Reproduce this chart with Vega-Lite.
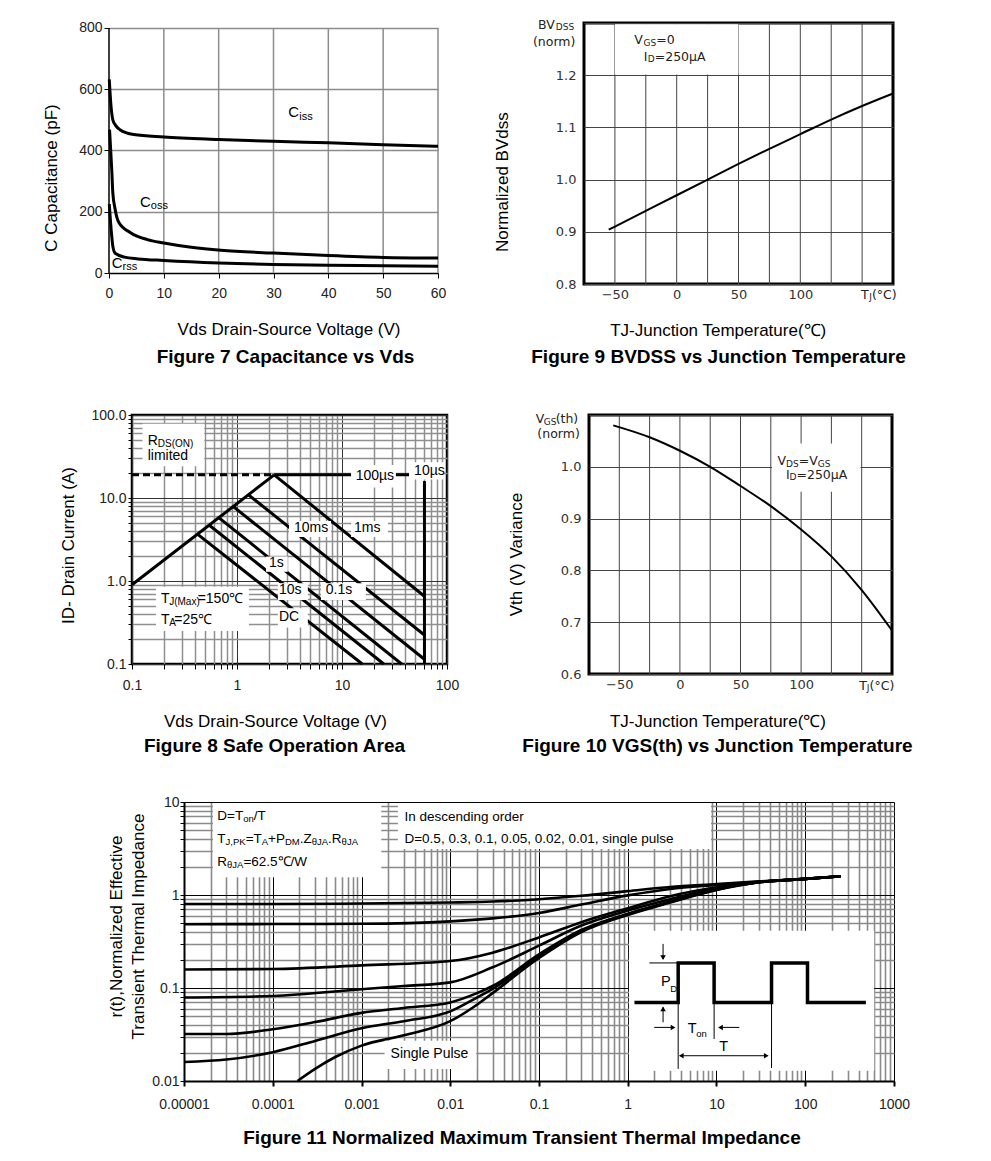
{
"$schema": "https://vega.github.io/schema/vega-lite/v6.json",
"background": "white",
"padding": {"left": 42, "top": 15, "right": 5, "bottom": 5},
"spacing": 37,
"config": {
  "view": {"stroke": null},
  "font": "Liberation Sans",
  "axis": {"labelFont": "Liberation Sans", "titleFont": "Liberation Sans", "labelFontSize": 14, "labelColor": "#222", "titleColor": "#000", "titleFontSize": 17, "titleFontWeight": "normal", "domainColor": "#000", "tickColor": "#000"},
  "title": {"font": "Liberation Sans", "fontSize": 19, "fontWeight": "bold", "color": "#000"},
  "text": {"font": "Liberation Sans", "color": "#000"}
},
"vconcat": [
{
  "bounds": "flush",
  "spacing": 146,
  "hconcat": [
  {
    "width": 329, "height": 250,
    "title": {"text": "Figure 7 Capacitance vs Vds", "orient": "bottom", "offset": 11, "dx": 12},
    "layer": [
      {
        "data": {"values": [{"x":10},{"x":20},{"x":30},{"x":40},{"x":50},{"x":60}]},
        "mark": {"type": "rule", "color": "#8c8c8c", "strokeWidth": 1.5},
        "encoding": {
          "x": {"field": "x", "type": "quantitative", "scale": {"domain": [0, 60], "nice": false, "zero": false},
            "axis": {"values": [0,10,20,30,40,50,60], "grid": false, "domainWidth": 1.5, "tickSize": 5, "labelPadding": 8, "labelFlush": false, "title": "Vds Drain-Source Voltage (V)", "titleX": 179.5, "titleY": 56, "titleBaseline": "middle"}},
          "y": {"datum": 0, "type": "quantitative"},
          "y2": {"datum": 800}
        }
      },
      {
        "data": {"values": [{"x": 0}]},
        "mark": {"type": "rule", "color": "#000", "strokeWidth": 1.5},
        "encoding": {"x": {"field": "x", "type": "quantitative"}, "y": {"datum": 0, "type": "quantitative"}, "y2": {"datum": 800}}
      },
      {
        "data": {"values": [
          {"s":"Ciss","x":0.05,"y":632},{"s":"Ciss","x":0.3,"y":560},{"s":"Ciss","x":0.7,"y":500},{"s":"Ciss","x":1.2,"y":482},{"s":"Ciss","x":2,"y":468},{"s":"Ciss","x":4.5,"y":452},{"s":"Ciss","x":10,"y":444},{"s":"Ciss","x":20,"y":436},{"s":"Ciss","x":30,"y":430},{"s":"Ciss","x":40,"y":425},{"s":"Ciss","x":50,"y":419},{"s":"Ciss","x":60,"y":414},
          {"s":"Coss","x":0.1,"y":468},{"s":"Coss","x":0.5,"y":338},{"s":"Coss","x":0.7,"y":261},{"s":"Coss","x":1.1,"y":210},{"s":"Coss","x":1.8,"y":165},{"s":"Coss","x":4,"y":131},{"s":"Coss","x":7,"y":109},{"s":"Coss","x":10,"y":98},{"s":"Coss","x":15,"y":84},{"s":"Coss","x":20.4,"y":74},{"s":"Coss","x":30,"y":65},{"s":"Coss","x":40,"y":57},{"s":"Coss","x":50,"y":51},{"s":"Coss","x":60,"y":49},
          {"s":"Crss","x":0.05,"y":225},{"s":"Crss","x":0.5,"y":120},{"s":"Crss","x":0.7,"y":87},{"s":"Crss","x":1.1,"y":65},{"s":"Crss","x":2.8,"y":52},{"s":"Crss","x":5.3,"y":46},{"s":"Crss","x":10,"y":41},{"s":"Crss","x":20,"y":33},{"s":"Crss","x":30,"y":28},{"s":"Crss","x":40,"y":25},{"s":"Crss","x":50,"y":24},{"s":"Crss","x":60,"y":22}
        ]},
        "mark": {"type": "line", "color": "#000", "strokeWidth": 3, "interpolate": "monotone"},
        "encoding": {
          "x": {"field": "x", "type": "quantitative"},
          "y": {"field": "y", "type": "quantitative", "scale": {"domain": [0, 816.3], "nice": false},
            "axis": {"values": [0,200,400,600,800], "grid": true, "gridColor": "#8c8c8c", "gridWidth": 1.5, "gridOpacity": {"condition": {"test": "datum.value == 0", "value": 0}, "value": 1}, "domain": false, "tickSize": 5, "labelPadding": 2, "title": "C Capacitance (pF)", "titleX": -57.5, "titleY": 154.5, "titleBaseline": "middle"}},
          "detail": {"field": "s"}
        }
      },
      {
        "data": {"values": [{"x":32.7,"y":526,"t":"C"},{"x":5.66,"y":232,"t":"C"},{"x":0.49,"y":33,"t":"C"}]},
        "mark": {"type": "text", "fontSize": 15, "align": "left", "baseline": "middle"},
        "encoding": {"x": {"field": "x", "type": "quantitative"}, "y": {"field": "y", "type": "quantitative"}, "text": {"field": "t"}}
      },
      {
        "data": {"values": [{"x":34.7,"y":510,"t":"iss"},{"x":7.63,"y":218,"t":"oss"},{"x":2.46,"y":20,"t":"rss"}]},
        "mark": {"type": "text", "fontSize": 11, "align": "left", "baseline": "middle"},
        "encoding": {"x": {"field": "x", "type": "quantitative"}, "y": {"field": "y", "type": "quantitative"}, "text": {"field": "t"}}
      }
    ]
  },
  {
    "width": 309, "height": 261,
    "view": {"stroke": "#000", "strokeWidth": 3},
    "title": {"text": "Figure 9 BVDSS vs Junction Temperature", "orient": "bottom", "offset": 10, "dx": -20},
    "layer": [
      {
        "data": {"values": [{"x":-50},{"x":-25},{"x":0},{"x":25},{"x":50},{"x":75},{"x":100},{"x":125},{"x":150}]},
        "mark": {"type": "rule", "color": "#444", "strokeWidth": 1},
        "encoding": {
          "x": {"field": "x", "type": "quantitative", "scale": {"domain": [-75, 175], "nice": false, "zero": false},
            "axis": {"values": [-50,0,50,100], "grid": false, "domain": false, "ticks": false, "tickSize": 0, "labelPadding": 4, "labelFlush": false, "labelFont": "DejaVu Sans", "labelFontSize": 13, "labelColor": "#333", "title": "TJ-Junction Temperature(℃)", "titleX": 133.7, "titleY": 46, "titleBaseline": "middle"}}
        }
      },
      {
        "data": {"values": [{"x": -50, "x2": 50, "y": 1.2015, "y2": 1.2975}]},
        "mark": {"type": "rect", "color": "#fff"},
        "encoding": {"x": {"field": "x", "type": "quantitative"}, "x2": {"field": "x2"}, "y": {"field": "y", "type": "quantitative"}, "y2": {"field": "y2"}}
      },
      {
        "data": {"values": [{"x":-55,"y":0.904},{"x":-50,"y":0.91},{"x":-25,"y":0.94},{"x":0,"y":0.97},{"x":25,"y":1.0},{"x":50,"y":1.03},{"x":75,"y":1.059},{"x":100,"y":1.087},{"x":125,"y":1.115},{"x":150,"y":1.141},{"x":175,"y":1.165}]},
        "mark": {"type": "line", "color": "#000", "strokeWidth": 2, "interpolate": "monotone"},
        "encoding": {
          "x": {"field": "x", "type": "quantitative"},
          "y": {"field": "y", "type": "quantitative", "scale": {"domain": [0.8, 1.3], "nice": false, "zero": false},
            "axis": {"values": [0.8,0.85,0.9,0.95,1,1.05,1.1,1.15,1.2,1.25,1.3], "format": ".1f", "labelExpr": "datum.value < 1.21 && abs(datum.value*10 - round(datum.value*10)) < 0.001 ? datum.label : ''", "grid": true, "gridColor": "#444", "gridWidth": 1, "domain": false, "ticks": false, "tickSize": 0, "labelPadding": 8, "labelOverlap": false, "labelFont": "DejaVu Sans", "labelFontSize": 13, "labelColor": "#333", "title": "Normalized BVdss", "titleX": -81.5, "titleY": 158.7, "titleBaseline": "middle"}}
        }
      },
      {
        "data": {"values": [{"x":-112.2,"y":1.296,"t":"BV"},{"x":-116.3,"y":1.2642,"t":"(norm)"},{"x":-34.3,"y":1.2674,"t":"V"},{"x":-16.6,"y":1.2674,"t":"=0"},{"x":-26.7,"y":1.2354,"t":"I"},{"x":-17.8,"y":1.2354,"t":"=250μA"},{"x":149.1,"y":0.779,"t":"T"},{"x":158,"y":0.779,"t":"(°C)"}]},
        "mark": {"type": "text", "font": "DejaVu Sans", "fontSize": 12.5, "align": "left", "baseline": "middle", "color": "#222"},
        "encoding": {"x": {"field": "x", "type": "quantitative"}, "y": {"field": "y", "type": "quantitative"}, "text": {"field": "t"}}
      },
      {
        "data": {"values": [{"x":-97.8,"y":1.2918,"t":"DSS"},{"x":-26.9,"y":1.2623,"t":"GS"},{"x":-23.4,"y":1.231,"t":"D"},{"x":155.7,"y":0.775,"t":"J"}]},
        "mark": {"type": "text", "font": "DejaVu Sans", "fontSize": 9, "align": "left", "baseline": "middle", "color": "#222"},
        "encoding": {"x": {"field": "x", "type": "quantitative"}, "y": {"field": "y", "type": "quantitative"}, "text": {"field": "t"}}
      }
    ]
  }
  ]
},
{
  "bounds": "flush",
  "spacing": 20,
  "hconcat": [
  {"width": 3, "height": 1, "data": {"values": [{"a": 1}]}, "mark": {"type": "point", "opacity": 0}},
  {
    "bounds": "flush",
    "spacing": 142,
    "hconcat": [
    {
      "width": 315, "height": 249,
      "view": {"stroke": "#000", "strokeWidth": 2.5},
      "title": {"text": "Figure 8 Safe Operation Area", "orient": "bottom", "offset": 8, "dx": -15},
      "layer": [
        {
          "data": {"values": [
            {"s":"rise","x":0.1,"y":0.9},{"s":"rise","x":2.26,"y":19},
            {"s":"top","x":2.26,"y":19},{"s":"top","x":61,"y":19},
            {"s":"v10us","x":61,"y":16},{"s":"v10us","x":61,"y":0.1},
            {"s":"1ms","x":2.26,"y":19},{"s":"1ms","x":60.5,"y":0.66},
            {"s":"10ms","x":1.3,"y":10.8},{"s":"10ms","x":60.5,"y":0.225},
            {"s":"0.1s","x":0.92,"y":7.9},{"s":"0.1s","x":60.5,"y":0.115},
            {"s":"1s","x":0.67,"y":5.8},{"s":"1s","x":37,"y":0.1},
            {"s":"10s","x":0.545,"y":4.7},{"s":"10s","x":25,"y":0.1},
            {"s":"DC","x":0.42,"y":3.67},{"s":"DC","x":15.6,"y":0.1}
          ]},
          "mark": {"type": "line", "color": "#000", "strokeWidth": 3},
          "encoding": {
            "x": {"field": "x", "type": "quantitative", "scale": {"type": "log", "domain": [0.1, 100], "nice": false},
              "axis": {"values": [0.1,0.2,0.3,0.4,0.5,0.6,0.7,0.8,0.9,1,2,3,4,5,6,7,8,9,10,20,30,40,50,60,70,80,90,100], "format": "~g", "labelExpr": "indexof([0.1,1,10,100], datum.value) >= 0 ? datum.label : ''", "grid": true, "gridColor": {"condition": {"test": "indexof([0.1,1,10,100], datum.value) >= 0", "value": "#333"}, "value": "#8f8f8f"}, "gridWidth": {"condition": {"test": "indexof([0.1,1,10,100], datum.value) >= 0", "value": 1}, "value": 1.5}, "domain": false, "tickSize": 5, "labelPadding": 9, "labelFlush": false, "labelOverlap": false, "title": "Vds Drain-Source Voltage (V)", "titleX": 143, "titleY": 57, "titleBaseline": "middle"}},
            "y": {"field": "y", "type": "quantitative", "scale": {"type": "log", "domain": [0.1, 100], "nice": false},
              "axis": {"values": [0.1,0.2,0.3,0.4,0.5,0.6,0.7,0.8,0.9,1,2,3,4,5,6,7,8,9,10,20,30,40,50,60,70,80,90,100], "format": ".1f", "labelExpr": "indexof([0.1,1,10,100], datum.value) >= 0 ? datum.label : ''", "grid": true, "gridColor": {"condition": {"test": "indexof([0.1,1,10,100], datum.value) >= 0", "value": "#333"}, "value": "#8f8f8f"}, "gridWidth": {"condition": {"test": "indexof([0.1,1,10,100], datum.value) >= 0", "value": 1}, "value": 1.5}, "domain": false, "tickSize": 4, "labelPadding": 2, "labelOverlap": false, "title": "ID- Drain Current (A)", "titleX": -63.5, "titleY": 130, "titleBaseline": "middle"}},
            "detail": {"field": "s"}
          }
        },
        {
          "data": {"values": [{"x":0.1,"y":19},{"x":2.26,"y":19}]},
          "mark": {"type": "line", "color": "#000", "strokeWidth": 3, "strokeDash": [7, 4]},
          "encoding": {"x": {"field": "x", "type": "quantitative"}, "y": {"field": "y", "type": "quantitative"}}
        },
        {
          "data": {"values": [
            {"x":0.126,"x2":0.488,"y":24.2,"y2":78.6},
            {"x":12.2,"x2":32.6,"y":13.4,"y2":24.9},
            {"x":43.5,"x2":93,"y":16.7,"y2":26.9},
            {"x":3.13,"x2":7.86,"y":3.4,"y2":5.3},
            {"x":12.2,"x2":27.4,"y":3.4,"y2":5.3},
            {"x":1.89,"x2":3.04,"y":1.29,"y2":1.97},
            {"x":2.45,"x2":4.73,"y":0.59,"y2":0.94},
            {"x":6.3,"x2":16.9,"y":0.59,"y2":0.94},
            {"x":2.45,"x2":4.73,"y":0.275,"y2":0.47},
            {"x":0.169,"x2":1.3,"y":0.25,"y2":0.85}
          ]},
          "mark": {"type": "rect", "color": "#fff"},
          "encoding": {"x": {"field": "x", "type": "quantitative"}, "x2": {"field": "x2"}, "y": {"field": "y", "type": "quantitative"}, "y2": {"field": "y2"}}
        },
        {
          "data": {"values": [
            {"x":0.141,"y":48.9,"t":"R"},{"x":0.141,"y":32.2,"t":"limited"},{"x":13.5,"y":18.4,"t":"100µs"},{"x":48.6,"y":21.1,"t":"10µs"},
            {"x":3.49,"y":4.35,"t":"10ms"},{"x":13.0,"y":4.35,"t":"1ms"},{"x":2.02,"y":1.635,"t":"1s"},{"x":2.51,"y":0.776,"t":"10s"},
            {"x":7.0,"y":0.776,"t":"0.1s"},{"x":2.51,"y":0.368,"t":"DC"},{"x":0.189,"y":0.615,"t":"T"},{"x":0.422,"y":0.615,"t":"=150℃"},
            {"x":0.189,"y":0.342,"t":"T"},{"x":0.253,"y":0.342,"t":"=25℃"}
          ]},
          "mark": {"type": "text", "fontSize": 14, "align": "left", "baseline": "middle"},
          "encoding": {"x": {"field": "x", "type": "quantitative"}, "y": {"field": "y", "type": "quantitative"}, "text": {"field": "t"}}
        },
        {
          "data": {"values": [{"x":0.176,"y":44.6,"t":"DS(ON)"},{"x":0.226,"y":0.555,"t":"J(Max)"},{"x":0.226,"y":0.308,"t":"A"}]},
          "mark": {"type": "text", "fontSize": 10, "align": "left", "baseline": "middle"},
          "encoding": {"x": {"field": "x", "type": "quantitative"}, "y": {"field": "y", "type": "quantitative"}, "text": {"field": "t"}}
        }
      ]
    },
    {
      "width": 303, "height": 259,
      "view": {"stroke": "#000", "strokeWidth": 3},
      "title": {"text": "Figure 10 VGS(th) vs Junction Temperature", "orient": "bottom", "offset": 8, "dx": -23},
      "layer": [
        {
          "data": {"values": [{"x":-50},{"x":-25},{"x":0},{"x":25},{"x":50},{"x":75},{"x":100},{"x":125},{"x":150}]},
          "mark": {"type": "rule", "color": "#444", "strokeWidth": 1},
          "encoding": {
            "x": {"field": "x", "type": "quantitative", "scale": {"domain": [-75, 175], "nice": false, "zero": false},
              "axis": {"values": [-50,0,50,100], "grid": false, "domain": false, "ticks": false, "tickSize": 0, "labelPadding": 4, "labelFlush": false, "labelFont": "DejaVu Sans", "labelFontSize": 13, "labelColor": "#333", "title": "TJ-Junction Temperature(℃)", "titleX": 128.5, "titleY": 47, "titleBaseline": "middle"}}
          }
        },
        {
          "data": {"values": [{"x": 76, "x2": 149, "y": 0.952, "y2": 1.045}]},
          "mark": {"type": "rect", "color": "#fff"},
          "encoding": {"x": {"field": "x", "type": "quantitative"}, "x2": {"field": "x2"}, "y": {"field": "y", "type": "quantitative"}, "y2": {"field": "y2"}}
        },
        {
          "data": {"values": [{"x":-55,"y":1.080},{"x":-25,"y":1.057},{"x":0,"y":1.031},{"x":25,"y":1.0},{"x":50,"y":0.963},{"x":75,"y":0.924},{"x":100,"y":0.879},{"x":125,"y":0.827},{"x":150,"y":0.762},{"x":175,"y":0.684}]},
          "mark": {"type": "line", "color": "#000", "strokeWidth": 2, "interpolate": "monotone"},
          "encoding": {
            "x": {"field": "x", "type": "quantitative"},
            "y": {"field": "y", "type": "quantitative", "scale": {"domain": [0.6, 1.1], "nice": false, "zero": false},
              "axis": {"values": [0.6,0.65,0.7,0.75,0.8,0.85,0.9,0.95,1,1.05,1.1], "format": ".1f", "labelExpr": "datum.value < 1.01 && abs(datum.value*10 - round(datum.value*10)) < 0.001 ? datum.label : ''", "grid": true, "gridColor": "#444", "gridWidth": 1, "domain": false, "ticks": false, "tickSize": 0, "labelPadding": 8, "labelOverlap": false, "labelFont": "DejaVu Sans", "labelFontSize": 13, "labelColor": "#333", "title": "Vth (V) Variance", "titleX": -72.3, "titleY": 139, "titleBaseline": "middle"}}
          }
        },
        {
          "data": {"values": [{"x":-119,"y":1.0917,"t":"V"},{"x":-102.5,"y":1.0917,"t":"(th)"},{"x":-117.6,"y":1.0626,"t":"(norm)"},{"x":80.6,"y":1.0107,"t":"V"},{"x":98,"y":1.0107,"t":"=V"},{"x":87.5,"y":0.9836,"t":"I"},{"x":96.2,"y":0.9836,"t":"=250μA"},{"x":148,"y":0.5775,"t":"T"},{"x":156.5,"y":0.5775,"t":"(°C)"}]},
          "mark": {"type": "text", "font": "DejaVu Sans", "fontSize": 12.5, "align": "left", "baseline": "middle", "color": "#222"},
          "encoding": {"x": {"field": "x", "type": "quantitative"}, "y": {"field": "y", "type": "quantitative"}, "text": {"field": "t"}}
        },
        {
          "data": {"values": [{"x":-112.4,"y":1.0864,"t":"GS"},{"x":87.6,"y":1.0063,"t":"DS"},{"x":113.7,"y":1.0063,"t":"GS"},{"x":90.5,"y":0.9797,"t":"D"},{"x":154.2,"y":0.5735,"t":"J"}]},
          "mark": {"type": "text", "font": "DejaVu Sans", "fontSize": 9, "align": "left", "baseline": "middle", "color": "#222"},
          "encoding": {"x": {"field": "x", "type": "quantitative"}, "y": {"field": "y", "type": "quantitative"}, "text": {"field": "t"}}
        }
      ]
    }
    ]
  }
  ]
},
{
  "bounds": "flush",
  "spacing": 20,
  "hconcat": [
  {"width": 55, "height": 1, "data": {"values": [{"a": 1}]}, "mark": {"type": "point", "opacity": 0}},
  {
    "width": 710, "height": 279,
    "title": {"text": "Figure 11 Normalized Maximum Transient Thermal Impedance", "orient": "bottom", "offset": 18, "dx": -17},
    "layer": [
      {
        "data": {"values": [
          {"s":"a","x":0.00001,"y":0.80},{"s":"a","x":0.0001,"y":0.80},{"s":"a","x":0.001,"y":0.81},{"s":"a","x":0.01,"y":0.83},{"s":"a","x":0.03,"y":0.85},{"s":"a","x":0.1,"y":0.9},{"s":"a","x":0.3,"y":0.98},{"s":"a","x":1,"y":1.1},{"s":"a","x":3,"y":1.22},{"s":"a","x":10,"y":1.31},{"s":"a","x":30,"y":1.40},{"s":"a","x":100,"y":1.49},{"s":"a","x":250,"y":1.59},
          {"s":"b","x":0.00001,"y":0.485},{"s":"b","x":0.0001,"y":0.487},{"s":"b","x":0.001,"y":0.49},{"s":"b","x":0.01,"y":0.52},{"s":"b","x":0.03,"y":0.56},{"s":"b","x":0.1,"y":0.64},{"s":"b","x":0.3,"y":0.79},{"s":"b","x":1,"y":0.99},{"s":"b","x":3,"y":1.16},{"s":"b","x":10,"y":1.28},{"s":"b","x":30,"y":1.39},{"s":"b","x":100,"y":1.49},{"s":"b","x":250,"y":1.59},
          {"s":"c","x":0.00001,"y":0.158},{"s":"c","x":0.0001,"y":0.16},{"s":"c","x":0.001,"y":0.175},{"s":"c","x":0.01,"y":0.195},{"s":"c","x":0.03,"y":0.24},{"s":"c","x":0.1,"y":0.35},{"s":"c","x":0.3,"y":0.51},{"s":"c","x":1,"y":0.72},{"s":"c","x":3,"y":0.97},{"s":"c","x":10,"y":1.21},{"s":"c","x":30,"y":1.38},{"s":"c","x":100,"y":1.49},{"s":"c","x":250,"y":1.59},
          {"s":"d","x":0.00001,"y":0.079},{"s":"d","x":0.0001,"y":0.082},{"s":"d","x":0.001,"y":0.097},{"s":"d","x":0.003,"y":0.105},{"s":"d","x":0.01,"y":0.115},{"s":"d","x":0.03,"y":0.167},{"s":"d","x":0.1,"y":0.285},{"s":"d","x":0.3,"y":0.47},{"s":"d","x":1,"y":0.68},{"s":"d","x":3,"y":0.9},{"s":"d","x":10,"y":1.18},{"s":"d","x":30,"y":1.37},{"s":"d","x":100,"y":1.49},{"s":"d","x":250,"y":1.59},
          {"s":"e","x":0.00001,"y":0.032},{"s":"e","x":0.00003,"y":0.032},{"s":"e","x":0.0001,"y":0.036},{"s":"e","x":0.0003,"y":0.043},{"s":"e","x":0.001,"y":0.054},{"s":"e","x":0.003,"y":0.061},{"s":"e","x":0.01,"y":0.07},{"s":"e","x":0.02,"y":0.088},{"s":"e","x":0.03,"y":0.105},{"s":"e","x":0.1,"y":0.23},{"s":"e","x":0.3,"y":0.42},{"s":"e","x":1,"y":0.63},{"s":"e","x":3,"y":0.85},{"s":"e","x":10,"y":1.15},{"s":"e","x":30,"y":1.37},{"s":"e","x":100,"y":1.49},{"s":"e","x":250,"y":1.59},
          {"s":"f","x":0.00001,"y":0.016},{"s":"f","x":0.00003,"y":0.017},{"s":"f","x":0.0001,"y":0.0204},{"s":"f","x":0.0003,"y":0.027},{"s":"f","x":0.001,"y":0.037},{"s":"f","x":0.003,"y":0.044},{"s":"f","x":0.01,"y":0.056},{"s":"f","x":0.02,"y":0.079},{"s":"f","x":0.03,"y":0.098},{"s":"f","x":0.1,"y":0.22},{"s":"f","x":0.3,"y":0.41},{"s":"f","x":1,"y":0.62},{"s":"f","x":3,"y":0.84},{"s":"f","x":10,"y":1.14},{"s":"f","x":30,"y":1.37},{"s":"f","x":100,"y":1.49},{"s":"f","x":250,"y":1.59},
          {"s":"g","x":0.00019,"y":0.01},{"s":"g","x":0.0003,"y":0.0135},{"s":"g","x":0.0005,"y":0.018},{"s":"g","x":0.001,"y":0.024},{"s":"g","x":0.003,"y":0.031},{"s":"g","x":0.01,"y":0.044},{"s":"g","x":0.02,"y":0.066},{"s":"g","x":0.03,"y":0.088},{"s":"g","x":0.1,"y":0.21},{"s":"g","x":0.3,"y":0.40},{"s":"g","x":1,"y":0.61},{"s":"g","x":3,"y":0.83},{"s":"g","x":10,"y":1.13},{"s":"g","x":30,"y":1.37},{"s":"g","x":100,"y":1.49},{"s":"g","x":250,"y":1.59}
        ]},
        "mark": {"type": "line", "color": "#000", "strokeWidth": 2.6, "interpolate": "monotone"},
        "encoding": {
          "x": {"field": "x", "type": "quantitative", "scale": {"type": "log", "domain": [0.00001, 1000], "nice": false},
            "axis": {"values": [0.00001,0.00002,0.00003,0.00004,0.00005,0.00006,0.00007,0.00008,0.00009,0.0001,0.0002,0.0003,0.0004,0.0005,0.0006,0.0007,0.0008,0.0009,0.001,0.002,0.003,0.004,0.005,0.006,0.007,0.008,0.009,0.01,0.02,0.03,0.04,0.05,0.06,0.07,0.08,0.09,0.1,0.2,0.3,0.4,0.5,0.6,0.7,0.8,0.9,1,2,3,4,5,6,7,8,9,10,20,30,40,50,60,70,80,90,100,200,300,400,500,600,700,800,900,1000],
              "format": ".5~f", "labelExpr": "indexof([0.00001,0.0001,0.001,0.01,0.1,1,10,100,1000], datum.value) >= 0 ? datum.label : ''",
              "grid": true, "gridColor": {"condition": {"test": "indexof([0.00001,0.0001,0.001,0.01,0.1,1,10,100,1000], datum.value) >= 0", "value": "#000"}, "value": "#8a8a8a"},
              "gridWidth": {"condition": {"test": "indexof([0.00001,0.0001,0.001,0.01,0.1,1,10,100,1000], datum.value) >= 0", "value": 1}, "value": 1.6},
              "tickOpacity": {"condition": {"test": "indexof([0.00001,0.0001,0.001,0.01,0.1,1,10,100,1000], datum.value) >= 0", "value": 1}, "value": 0},
              "tickSize": 5, "tickWidth": 2, "domainWidth": 2, "labelPadding": 11, "labelFlush": false, "labelOverlap": false, "title": null}},
          "y": {"field": "y", "type": "quantitative", "scale": {"type": "log", "domain": [0.01, 10], "nice": false},
            "axis": {"values": [0.01,0.02,0.03,0.04,0.05,0.06,0.07,0.08,0.09,0.1,0.2,0.3,0.4,0.5,0.6,0.7,0.8,0.9,1,2,3,4,5,6,7,8,9,10],
              "format": ".2~f", "labelExpr": "indexof([0.01,0.1,1,10], datum.value) >= 0 ? datum.label : ''",
              "grid": true, "gridColor": {"condition": {"test": "indexof([0.01,0.1,1,10], datum.value) >= 0", "value": "#000"}, "value": "#8a8a8a"},
              "gridWidth": {"condition": {"test": "indexof([0.01,0.1,1,10], datum.value) >= 0", "value": 1}, "value": 1.6},
              "tickSize": 4, "domainWidth": 2, "labelPadding": 1, "labelOverlap": false,
              "title": ["r(t),Normalized Effective", "Transient Thermal Impedance"], "titleLineHeight": 22.5, "titleX": -68, "titleY": 124, "titleBaseline": "middle"}},
          "detail": {"field": "s"}
        }
      },
      {
        "data": {"values": [
          {"x":0.0000212,"x2":0.00167,"y":1.55,"y2":9.75},
          {"x":0.00257,"x2":8.67,"y":3.12,"y2":9.75},
          {"x":0.00182,"x2":0.0196,"y":0.0135,"y2":0.0271},
          {"x":1.03,"x2":598,"y":0.0129,"y2":0.413}
        ]},
        "mark": {"type": "rect", "color": "#fff"},
        "encoding": {"x": {"field": "x", "type": "quantitative"}, "x2": {"field": "x2"}, "y": {"field": "y", "type": "quantitative"}, "y2": {"field": "y2"}}
      },
      {
        "data": {"values": [
          {"x":3.7,"x2":3.7,"y":0.07,"y2":0.0135},
          {"x":9.4,"x2":9.4,"y":0.07,"y2":0.0283},
          {"x":41.7,"x2":41.7,"y":0.07,"y2":0.0138},
          {"x":1.75,"x2":3.7,"y":0.186,"y2":0.186},
          {"x":2.5,"x2":2.5,"y":0.298,"y2":0.205},
          {"x":2.5,"x2":2.5,"y":0.0428,"y2":0.062},
          {"x":1.99,"x2":3.3,"y":0.0377,"y2":0.0377},
          {"x":18.1,"x2":10.8,"y":0.0377,"y2":0.0377},
          {"x":4.0,"x2":37,"y":0.0187,"y2":0.0187}
        ]},
        "mark": {"type": "rule", "color": "#000", "strokeWidth": 1},
        "encoding": {"x": {"field": "x", "type": "quantitative"}, "x2": {"field": "x2"}, "y": {"field": "y", "type": "quantitative"}, "y2": {"field": "y2"}}
      },
      {
        "data": {"values": [
          {"o":1,"x":1.19,"y":0.07},{"o":2,"x":3.7,"y":0.07},{"o":3,"x":3.7,"y":0.186},{"o":4,"x":9.4,"y":0.186},{"o":5,"x":9.4,"y":0.07},
          {"o":6,"x":41.7,"y":0.07},{"o":7,"x":41.7,"y":0.186},{"o":8,"x":106,"y":0.186},{"o":9,"x":106,"y":0.07},{"o":10,"x":482,"y":0.07}
        ]},
        "mark": {"type": "line", "color": "#000", "strokeWidth": 3.5, "strokeJoin": "miter"},
        "encoding": {"x": {"field": "x", "type": "quantitative"}, "y": {"field": "y", "type": "quantitative"}, "order": {"field": "o", "type": "quantitative"}}
      },
      {
        "data": {"values": [{"x":2.5,"y":0.212}]},
        "mark": {"type": "point", "shape": "triangle-down", "filled": true, "color": "#000", "size": 30, "opacity": 1},
        "encoding": {"x": {"field": "x", "type": "quantitative"}, "y": {"field": "y", "type": "quantitative"}}
      },
      {
        "data": {"values": [{"x":2.5,"y":0.0598}]},
        "mark": {"type": "point", "shape": "triangle-up", "filled": true, "color": "#000", "size": 30, "opacity": 1},
        "encoding": {"x": {"field": "x", "type": "quantitative"}, "y": {"field": "y", "type": "quantitative"}}
      },
      {
        "data": {"values": [{"x":3.24,"y":0.0377},{"x":36.4,"y":0.0187}]},
        "mark": {"type": "point", "shape": "triangle-right", "filled": true, "color": "#000", "size": 30, "opacity": 1},
        "encoding": {"x": {"field": "x", "type": "quantitative"}, "y": {"field": "y", "type": "quantitative"}}
      },
      {
        "data": {"values": [{"x":11.1,"y":0.0377},{"x":4.01,"y":0.0187}]},
        "mark": {"type": "point", "shape": "triangle-left", "filled": true, "color": "#000", "size": 30, "opacity": 1},
        "encoding": {"x": {"field": "x", "type": "quantitative"}, "y": {"field": "y", "type": "quantitative"}}
      },
      {
        "data": {"values": [
          {"x":0.0000237,"y":7.12,"t":"D=T"},{"x":0.0000611,"y":7.12,"t":"/T"},
          {"x":0.0000237,"y":4.0,"t":"T"},{"x":0.0000495,"y":4.0,"t":"=T"},{"x":0.0000885,"y":4.0,"t":"+P"},{"x":0.000201,"y":4.0,"t":".Z"},{"x":0.00042,"y":4.0,"t":".R"},
          {"x":0.0000237,"y":2.25,"t":"R"},{"x":0.0000467,"y":2.25,"t":"=62.5℃/W"},
          {"x":0.00305,"y":6.85,"t":"In descending order"},
          {"x":0.00305,"y":4.0,"t":"D=0.5, 0.3, 0.1, 0.05, 0.02, 0.01, single pulse"}
        ]},
        "mark": {"type": "text", "fontSize": 13.5, "align": "left", "baseline": "middle"},
        "encoding": {"x": {"field": "x", "type": "quantitative"}, "y": {"field": "y", "type": "quantitative"}, "text": {"field": "t"}}
      },
      {
        "data": {"values": [
          {"x":0.0000464,"y":6.6,"t":"on"},
          {"x":0.0000294,"y":3.71,"t":"J,PK"},{"x":0.0000752,"y":3.71,"t":"A"},{"x":0.0001372,"y":3.71,"t":"DM"},{"x":0.000275,"y":3.71,"t":"θJA"},{"x":0.000597,"y":3.71,"t":"θJA"},
          {"x":0.0000305,"y":2.08,"t":"θJA"}
        ]},
        "mark": {"type": "text", "fontSize": 9.5, "align": "left", "baseline": "middle"},
        "encoding": {"x": {"field": "x", "type": "quantitative"}, "y": {"field": "y", "type": "quantitative"}, "text": {"field": "t"}}
      },
      {
        "data": {"values": [{"x":0.00583,"y":0.0195,"t":"Single Pulse"}]},
        "mark": {"type": "text", "fontSize": 14, "align": "center", "baseline": "middle"},
        "encoding": {"x": {"field": "x", "type": "quantitative"}, "y": {"field": "y", "type": "quantitative"}, "text": {"field": "t"}}
      },
      {
        "data": {"values": [{"x":2.37,"y":0.115,"t":"P"},{"x":4.74,"y":0.0362,"t":"T"},{"x":10.75,"y":0.023,"t":"T"}]},
        "mark": {"type": "text", "fontSize": 14.5, "align": "left", "baseline": "middle"},
        "encoding": {"x": {"field": "x", "type": "quantitative"}, "y": {"field": "y", "type": "quantitative"}, "text": {"field": "t"}}
      },
      {
        "data": {"values": [{"x":3.02,"y":0.0976,"t":"D"},{"x":5.91,"y":0.0322,"t":"on"}]},
        "mark": {"type": "text", "fontSize": 9.5, "align": "left", "baseline": "middle"},
        "encoding": {"x": {"field": "x", "type": "quantitative"}, "y": {"field": "y", "type": "quantitative"}, "text": {"field": "t"}}
      }
    ]
  }
  ]
}
]
}
